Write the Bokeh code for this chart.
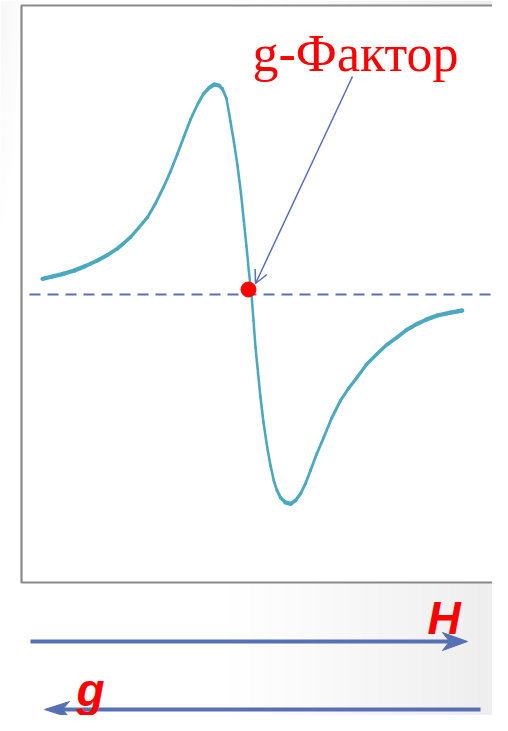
import numpy as np
from bokeh.plotting import figure
from bokeh.models import Range1d, Arrow, OpenHead
from bokeh.core.properties import value
from bokeh.embed import file_html
from bokeh.resources import INLINE

# ---- data: EPR first-derivative signal (magnetic field H and signal, arbitrary units) ----
field_H = [42, 52, 63, 74, 85, 97, 107, 117, 123.5, 130, 138, 147, 155, 163, 170, 177,
           183.5, 190, 197, 203, 209, 214, 218.5, 222, 226, 230, 233.5, 237, 240.5, 243.3,
           246, 248.3, 251,
           253, 255, 257.5, 260, 263, 266.7, 270, 273.3, 276.5, 280, 285, 290, 295, 300,
           305, 310, 316, 323.3, 331, 340, 348, 356.7, 366, 376.7, 386, 396.7, 406, 416.7,
           426, 436.7, 449, 461.7]
signal = [15.7, 18, 20.7, 24, 28.5, 34, 39.5, 46, 51.5, 57.3, 66.5, 77.3, 91, 107.3, 123, 140.7,
          158, 175, 190, 200.7, 207, 210, 209, 205.5, 196, 173, 152, 129, 101, 74,
          48, 24, 0,
          -26, -53, -78, -103, -128, -152.7, -171, -186, -196, -203, -208, -209.3, -206, -199.3,
          -189, -176, -160, -142.7, -124, -106, -94, -82.7, -70, -59.3, -50.5, -42.7, -35.5, -29.3,
          -25, -21, -18.3, -16]
g_point_H = [248]
g_point_S = [5]
baseline_S = 0.0
label_g_factor = "g-Фактор"
label_H = "H"
label_g = "g"

# ---- layout (reference-pixel space: x = px, y = 294 - py) ----
def Y(py):
    return 294.0 - py

W, Hh = 492, 715
p = figure(width=W, height=Hh, output_backend="svg", toolbar_location=None,
           x_range=Range1d(0, W), y_range=Range1d(Y(Hh), Y(0)),
           min_border=0, outline_line_color=None)
p.axis.visible = False
p.grid.visible = False
p.background_fill_color = "white"
p.border_fill_color = "white"

# background gradient (slide)
nx, ny = 246, 143
xs = np.linspace(0, W, nx)
pys = np.linspace(Hh, 0, ny)
XX, PY = np.meshgrid(xs, pys)
t = np.clip((XX - 230) / 278.0, 0, 1)
tl = np.clip(1 - (XX / 40.0 + PY / 220.0), 0, 1)
gray = (255 - 18 * t ** 1.1 - 7 * tl).astype(np.uint8)
img = np.empty((ny, nx), dtype=np.uint32)
v = img.view(dtype=np.uint8).reshape((ny, nx, 4))
v[:, :, 0] = gray
v[:, :, 1] = gray
v[:, :, 2] = gray
v[:, :, 3] = 255
p.image_rgba(image=[img], x=0, y=Y(Hh), dw=W, dh=Hh)

# chart box
p.quad(left=21, right=502, top=Y(5), bottom=Y(582),
       fill_color="white", line_color="#8a8a8a", line_width=2.2)

# dashed baseline
p.segment(x0=29, x1=W + 20, y0=baseline_S, y1=baseline_S,
          line_color="#5a6fb6", line_width=2, line_dash="11 7")

# curve: drawn as segments, thicker where flat (as in the stretched original)
hx = np.array(field_H, dtype=float)
sv = np.array(signal, dtype=float)
ang = np.arctan2(np.abs(np.diff(sv)), np.abs(np.diff(hx)))
widths = 2.5 + 1.9 * np.cos(ang) ** 2
p.segment(x0=hx[:-1], y0=sv[:-1], x1=hx[1:], y1=sv[1:], line_color="#4aa8bf",
          line_width=widths, line_cap="round")

# pointer arrow to g-factor point
p.add_layout(Arrow(end=OpenHead(size=13, line_color="#5a6fb6", line_width=1.5),
                   x_start=352, y_start=Y(76), x_end=255, y_end=Y(283),
                   line_color="#5a6fb6", line_width=1.5))

# g-factor point
p.scatter(g_point_H, g_point_S, size=15, color="#ff0000")

# label
p.text(x=[252], y=[Y(53)], text=[label_g_factor], text_color="#ff0000",
       text_font=value("Liberation Serif"), text_font_size="52px",
       text_baseline="alphabetic", text_align="left")

# H and g arrows
ac = "#5670b4"
def head(tip_px, tip_py, d, L=25, Wd=9, notch=0.72):
    pts = [(tip_px, tip_py), (tip_px - d * L, tip_py - Wd),
           (tip_px - d * L * notch, tip_py), (tip_px - d * L, tip_py + Wd)]
    return [a for a, b in pts], [Y(b) for a, b in pts]

yH = 641
p.segment(x0=30, x1=450, y0=Y(yH), y1=Y(yH), line_color=ac, line_width=4)
hxs, hys = head(467, yH, 1)
p.patch(hxs, hys, fill_color=ac, line_color=ac)

yg = 709
p.segment(x0=60, x1=480, y0=Y(yg), y1=Y(yg), line_color=ac, line_width=4)
gxs, gys = head(44, yg, -1, Wd=8)
p.patch(gxs, gys, fill_color=ac, line_color=ac)

p.text(x=[427], y=[Y(617)], text=[label_H], text_color="#ff0000",
       text_font=value("Liberation Sans"), text_font_size="46px", text_font_style="bold italic",
       text_baseline="alphabetic", text_align="left")
p.text(x=[76], y=[Y(689)], text=[label_g], text_color="#ff0000",
       text_font=value("Liberation Sans"), text_font_size="46px", text_font_style="bold italic",
       text_baseline="alphabetic", text_align="left")

open("out.html", "w").write(file_html(p, INLINE))
